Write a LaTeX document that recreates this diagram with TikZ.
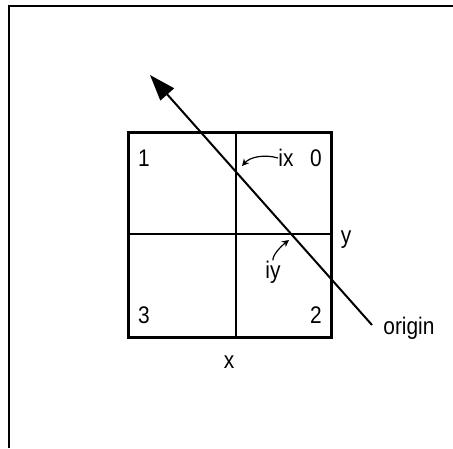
\documentclass[tikz,border=0pt]{standalone}
\usepackage{fontspec}
\setmainfont{Liberation Sans}[FakeStretch=0.87]
\usetikzlibrary{arrows.meta, calc}

\begin{document}
\begin{tikzpicture}[x=0.5pt, y=-0.5pt,
    lbl/.style={font=\fontsize{12}{14}\selectfont, inner sep=0pt},
    grid/.style={line width=0.7pt},
    cell/.style={line width=1.5pt},
    ray/.style={line width=1pt, -{Triangle[length=13pt, width=9pt]}},
    note/.style={line width=0.6pt, -{Stealth[length=3.5pt, width=3.5pt]}}]
  \useasboundingbox (0,0) rectangle (453,448);
  \def\xa{128} \def\xm{236} \def\xb{331}   % square columns
  \def\ya{133} \def\ym{234} \def\yb{337}   % square rows
  % page frame
  \draw[line width=1pt] (9,448) -- (9,6) -- (453,6);
  % square and its quarters
  \draw[grid] (\xm,\ya) -- (\xm,\yb);
  \draw[grid] (\xa,\ym) -- (\xb,\ym);
  \draw[cell] (\xa,\ya) rectangle (\xb,\yb);
  % quarter numbers
  \node[lbl] (q1) at (144,158) {1};
  \node[lbl] (q0) at (316,158) {0};
  \node[lbl] (q3) at (144,315) {3};
  \node[lbl] (q2) at (316,315) {2};
  % ray from origin
  \coordinate (org) at (372,325);
  \coordinate (tip) at (150,75);
  \draw[ray] (org) -- (tip);
  \node[lbl, anchor=west] (olbl) at (383,328) {origin};
  % crossings
  \coordinate (cx) at (\xm,169);
  \coordinate (cy) at (292,\ym);
  \node[lbl] (ix) at (286,158) {ix};
  \node[lbl] (iy) at (273,272) {iy};
  \draw[note] (ix.west) .. controls (264,154) and (250,157) .. ($(cx)+(6,-3)$);
  \draw[note] (iy.north) .. controls (272,256) and (280,247) .. ($(cy)+(-3,6)$);
  % axis letters
  \node[lbl] (ylbl) at (346,240) {y};
  \node[lbl] (xlbl) at (229,362) {x};
\end{tikzpicture}
\end{document}
